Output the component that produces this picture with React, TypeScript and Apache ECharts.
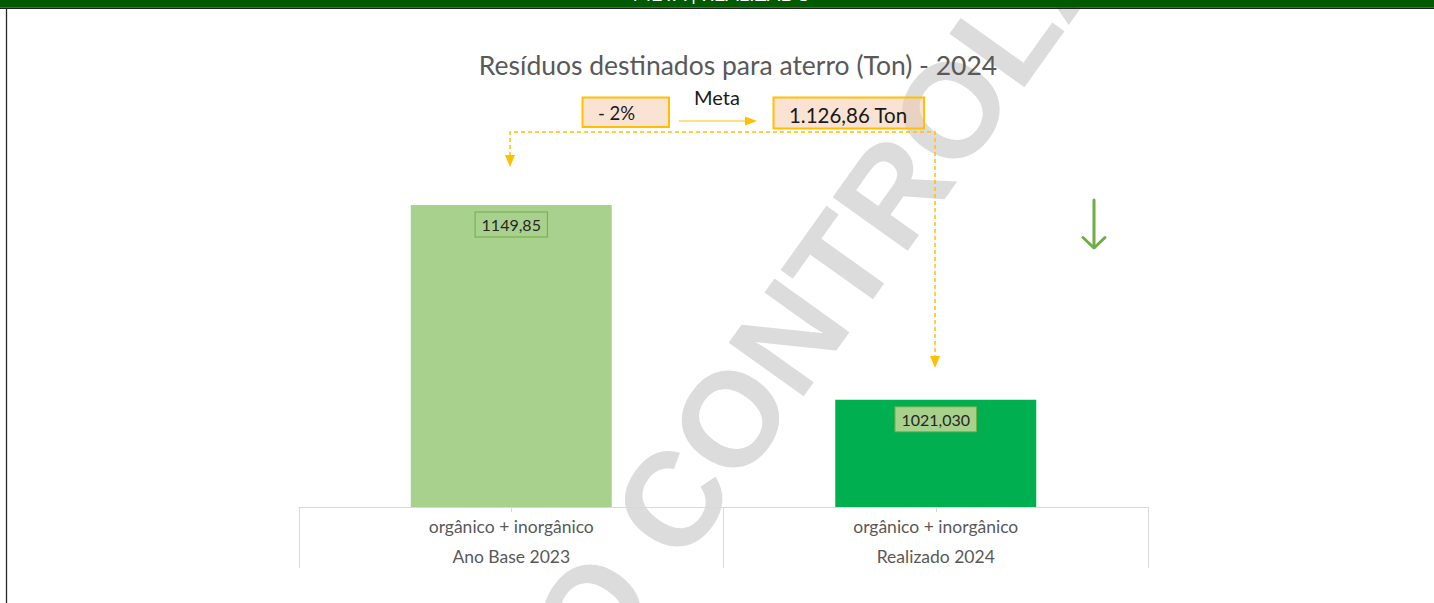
import React, { useEffect, useRef } from "react";
import * as echarts from "echarts";

const categories = ["Ano Base 2023", "Realizado 2024"];
const subCategories = ["orgânico + inorgânico", "orgânico + inorgânico"];
const values = [1149.85, 1021.03];
const labelDecimals = [2, 3];
const barColors = ["#a9d18e", "#00b050"];
const chartTitle = "Resíduos destinados para aterro (Ton) - 2024";
const headerText = "META | REALIZADO";
const metaPercent = "- 2%";
const metaLabel = "Meta";
const metaValue = "1.126,86 Ton";
const watermarkBefore = "CÓPIA NÃO ";
const watermarkAfter = "CONTROLADA";

const FONT = "Lato, 'Open Sans', sans-serif";
const GOLD = "#ffc000";

export default function App() {
  const ref = useRef<HTMLDivElement>(null);

  useEffect(() => {
    if (!ref.current) return;
    const chart = echarts.init(ref.current, null, { renderer: "svg" });
    const rot = (54.5 * Math.PI) / 180;
    const wmX = 644;
    const wmY = 540;
    const wmFont = "bold 134px 'Liberation Sans', Arial, sans-serif";
    const option: any = {
      animation: false,
      backgroundColor: "#ffffff",
      grid: { left: 299, width: 849, top: 129.3, height: 377.7, containLabel: false },
      xAxis: [
        {
          type: "category",
          data: categories,
          axisLine: { show: true, lineStyle: { color: "#d9d9d9", width: 1 } },
          axisTick: { show: true, alignWithLabel: true, length: 5, lineStyle: { color: "#d9d9d9" } },
          axisLabel: {
            margin: 4,
            lineHeight: 30,
            fontSize: 17.5,
            color: "#595959",
            fontFamily: FONT,
            formatter: (v: string, i: number) => subCategories[i] + "\n" + v,
          },
        },
        {
          type: "category",
          data: categories,
          position: "bottom",
          axisLine: { show: false },
          axisTick: { show: true, interval: 0, length: 61, lineStyle: { color: "#d9d9d9" } },
          axisLabel: { show: false },
        },
      ],
      yAxis: { type: "value", min: 950, max: 1200, show: false, splitLine: { show: false } },
      series: [
        {
          type: "bar",
          xAxisIndex: 0,
          barWidth: 201,
          data: values.map((v, i) => ({ value: v, itemStyle: { color: barColors[i] } })),
          label: {
            show: true,
            position: "insideTop",
            distance: 7.5,
            backgroundColor: "#a9d18e",
            borderColor: "#70ad47",
            borderWidth: 1,
            padding: [4, 6],
            fontSize: 16,
            color: "#262626",
            fontFamily: FONT,
            formatter: (p: any) => Number(p.value).toFixed(labelDecimals[p.dataIndex]).replace(".", ","),
          },
        },
      ],
      graphic: [
        // watermark
        {
          type: "text",
          x: wmX,
          y: wmY,
          rotation: rot,
          z: -10,
          silent: true,
          style: { text: watermarkAfter, fill: "#dcdcdc", font: wmFont, align: "left", verticalAlign: "middle" },
        },
        {
          type: "text",
          x: wmX,
          y: wmY,
          rotation: rot,
          z: -10,
          silent: true,
          style: { text: watermarkBefore, fill: "#dcdcdc", font: wmFont, align: "right", verticalAlign: "middle" },
        },
        // header bar
        { type: "rect", z: 50, shape: { x: 0, y: 0, width: 1434, height: 7.5 }, style: { fill: "#005a00" } },
        {
          type: "text",
          z: 51,
          x: 722,
          y: 2.5,
          style: { text: headerText, fill: "#ffffff", font: "20px " + FONT, align: "center", verticalAlign: "bottom" },
        },
        { type: "line", z: 52, shape: { x1: 0, y1: 8.2, x2: 1434, y2: 8.2 }, style: { stroke: "#1f1f1f", lineWidth: 1.6 } },
        { type: "line", z: 52, shape: { x1: 6.5, y1: 8, x2: 6.5, y2: 603 }, style: { stroke: "#262626", lineWidth: 1.3 } },
        // title
        {
          type: "text",
          z: 50,
          x: 738,
          y: 65,
          style: { text: chartTitle, fill: "#595959", font: "26.5px " + FONT, align: "center", verticalAlign: "middle" },
        },
        // boxes
        {
          type: "rect",
          z: 50,
          shape: { x: 582.5, y: 97.5, width: 86.5, height: 29.5 },
          style: { fill: "rgba(247,200,170,0.5)", stroke: GOLD, lineWidth: 2 },
        },
        {
          type: "text",
          z: 51,
          x: 598,
          y: 113,
          style: { text: metaPercent, fill: "#1a1a1a", font: "18.5px " + FONT, align: "left", verticalAlign: "middle" },
        },
        {
          type: "text",
          z: 51,
          x: 717,
          y: 97,
          style: { text: metaLabel, fill: "#1a1a1a", font: "20px " + FONT, align: "center", verticalAlign: "middle" },
        },
        { type: "line", z: 51, shape: { x1: 679, y1: 121, x2: 746, y2: 121 }, style: { stroke: GOLD, lineWidth: 1.2 } },
        { type: "polygon", z: 51, shape: { points: [[745, 116.5], [757, 121], [745, 125.5]] }, style: { fill: GOLD } },
        {
          type: "rect",
          z: 50,
          shape: { x: 773.5, y: 97.5, width: 150.5, height: 31 },
          style: { fill: "rgba(247,200,170,0.5)", stroke: GOLD, lineWidth: 2 },
        },
        {
          type: "text",
          z: 51,
          x: 848,
          y: 114.5,
          style: { text: metaValue, fill: "#1a1a1a", font: "20.5px " + FONT, align: "center", verticalAlign: "middle" },
        },
        // dashed connector
        {
          type: "polyline",
          z: 51,
          shape: { points: [[510, 156], [510, 132], [935, 132], [935, 357]] },
          style: { stroke: GOLD, lineWidth: 1.5, lineDash: [4, 3], fill: null },
        },
        { type: "polygon", z: 51, shape: { points: [[505, 155], [510, 167], [515, 155]] }, style: { fill: GOLD } },
        { type: "polygon", z: 51, shape: { points: [[930, 356], [935, 368], [940, 356]] }, style: { fill: GOLD } },
        // green down arrow
        { type: "line", z: 51, shape: { x1: 1094, y1: 200, x2: 1094, y2: 247 }, style: { stroke: "#70ad47", lineWidth: 3, lineCap: "round" } },
        {
          type: "polyline",
          z: 51,
          shape: { points: [[1083, 237.5], [1094, 248], [1105, 237.5]] },
          style: { stroke: "#70ad47", lineWidth: 3, lineCap: "round", lineJoin: "round", fill: null },
        },
      ],
    };
    chart.setOption(option);
    return () => chart.dispose();
  }, []);

  return (
    <div
      ref={ref}
      style={{ position: "fixed", left: 0, top: 0, width: 1434, height: 603, background: "#fff" }}
    />
  );
}
